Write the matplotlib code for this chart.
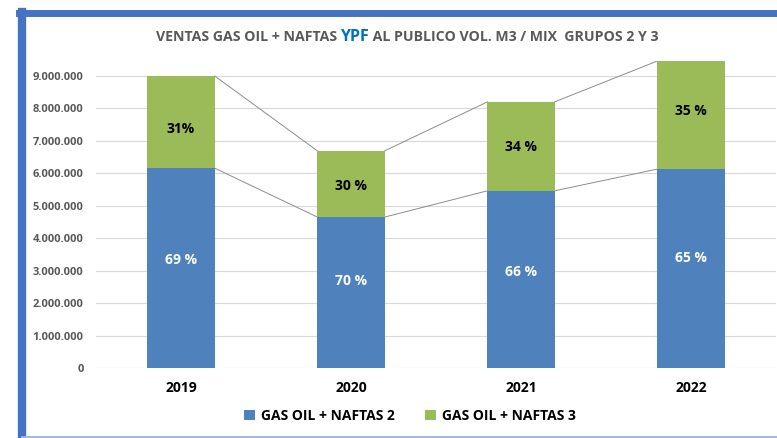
import matplotlib.pyplot as plt
import numpy as np
from matplotlib.lines import Line2D
from matplotlib.ticker import FuncFormatter

years = ['2019', '2020', '2021', '2022']
naftas2 = [6160000, 4650000, 5460000, 6130000]
naftas3 = [2840000, 2040000, 2740000, 3330000]
pct2 = ['69 %', '70 %', '66 %', '65 %']
pct3 = ['31%', '30 %', '34 %', '35 %']

blue = '#4F81BD'
green = '#9BBB59'
grey_txt = '#595959'

# label nudges (px) so they sit like in the original
off2 = [8, 12, 7, 11]
off3 = [-7, -2, -1, 4]

plt.rcParams['font.family'] = ['Open Sans', 'DejaVu Sans']

fig = plt.figure(figsize=(7.77, 4.38), dpi=100)
ax = fig.add_axes([96/777, 1-368/438, 680/777, 307/438])

x = np.arange(len(years))
w = 0.395
ax.bar(x, naftas2, w, color=blue, zorder=3, label='GAS OIL + NAFTAS 2')
tot = np.array(naftas2) + np.array(naftas3)
ax.bar(x, naftas3, w, bottom=naftas2, color=green, zorder=3, label='GAS OIL + NAFTAS 3')

# series lines between bars
for i in range(len(years)-1):
    ax.plot([x[i]+w/2, x[i+1]-w/2], [naftas2[i], naftas2[i+1]], color='#8C8C8C', lw=0.7, zorder=2)
    ax.plot([x[i]+w/2, x[i+1]-w/2], [tot[i], tot[i+1]], color='#8C8C8C', lw=0.7, zorder=2)

for i in range(len(years)):
    ax.annotate(pct2[i], (x[i], naftas2[i]/2), xytext=(0, off2[i]*0.72), textcoords='offset points',
                ha='center', va='center', color='white', fontsize=10, fontweight='bold', zorder=4)
    ax.annotate(pct3[i], (x[i], naftas2[i]+naftas3[i]/2), xytext=(0, off3[i]*0.72), textcoords='offset points',
                ha='center', va='center', color='black', fontsize=10, fontweight='bold', zorder=4)

ax.set_xlim(-0.5, 3.5)
ax.set_ylim(0, 9460000)
ax.set_yticks(np.arange(0, 9000001, 1000000))
ax.yaxis.set_major_formatter(FuncFormatter(lambda v, p: '{:,.0f}'.format(v).replace(',', '.')))
ax.set_xticks(x)
ax.set_xticklabels(years, fontsize=10, fontweight='bold')
ax.tick_params(axis='x', length=0, pad=9)
ax.tick_params(axis='y', length=0, pad=9, labelsize=8, labelcolor=grey_txt)
for lab in ax.get_yticklabels():
    lab.set_fontweight('bold')
ax.grid(axis='y', color='#D9D9D9', lw=0.8, zorder=0)
for s in ax.spines.values():
    s.set_visible(False)

ax.legend(loc='center', bbox_to_anchor=(410/777, 1-416/438), bbox_transform=fig.transFigure,
          ncol=2, frameon=False, handlelength=0.8, handleheight=0.8, handletextpad=0.4,
          columnspacing=2.2, prop={'size': 10, 'weight': 'bold'})

# title with coloured YPF
parts = [('VENTAS GAS OIL + NAFTAS ', grey_txt), ('YPF', '#0070C0'),
         (' AL PUBLICO VOL. M3 / MIX  GRUPOS 2 Y 3', grey_txt)]
fig.canvas.draw()
r = fig.canvas.get_renderer()
texts = []
for s, c in parts:
    fs = 11.5 if s == 'YPF' else 10.2
    texts.append(fig.text(0, 1-37/438, s, color=c, fontsize=fs, fontweight='bold', va='center'))
widths = [t.get_window_extent(r).width for t in texts]
xpos = 407 - sum(widths)/2
for t, wd in zip(texts, widths):
    t.set_x(xpos/777)
    xpos += wd

# frame border
fig.add_artist(Line2D([22/777, 22/777], [0, 1-12/438], color='#4472C4', lw=6, transform=fig.transFigure))
fig.add_artist(Line2D([19/777, 1], [1-13/438, 1-13/438], color='#4472C4', lw=5, transform=fig.transFigure))
fig.add_artist(Line2D([22/777, 1], [1.5/438, 1.5/438], color='#9DB5E0', lw=2, transform=fig.transFigure))

fig.savefig('out.png', dpi=100)
